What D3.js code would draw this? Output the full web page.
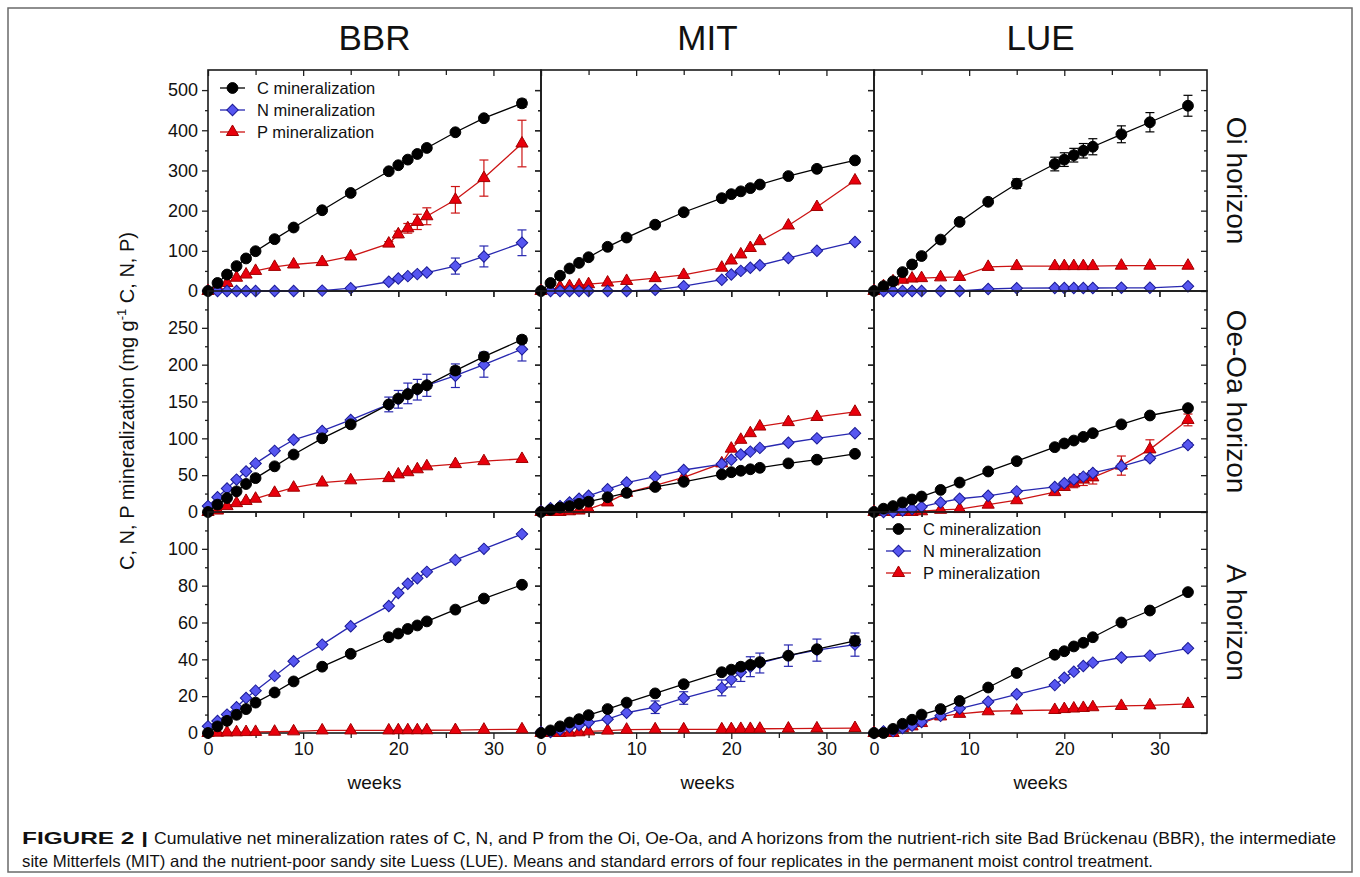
<!DOCTYPE html>
<html>
<head>
<meta charset="utf-8">
<script src="https://cdn.jsdelivr.net/npm/d3@7"></script>
<style>
  body { margin: 0; background: #fff; }
  svg text { font-family: "Liberation Sans", Arial, sans-serif; fill: #111; }
</style>
</head>
<body>
<svg id="chart" width="1360" height="877"></svg>
<script>
// sampling weeks (same for every panel)
const weeks = [0, 1, 2, 3, 4, 5, 7, 9, 12, 15, 19, 20, 21, 22, 23, 26, 29, 33];

const sites = ["BBR", "MIT", "LUE"];
const horizons = ["Oi horizon", "Oe-Oa horizon", "A horizon"];
const elements = ["C mineralization", "N mineralization", "P mineralization"];

// Oi horizon
const bbrOiC = [0, 20, 41, 62, 81, 99, 129, 158, 201, 244, 298, 313, 327, 341, 356, 395, 430, 467];
const bbrOiN = [0, 0, 0, 0, 0, 0, 0, 0, 1, 7, 23, 31, 37, 42, 46, 62, 86, 120];
const bbrOiP = [0, 9, 20, 33, 41, 50, 60, 66, 72, 86, 118, 141, 156, 172, 186, 227, 281, 367];
const mitOiC = [0, 20, 38, 56, 70, 84, 110, 133, 165, 196, 231, 241, 248, 256, 265, 286, 304, 325];
const mitOiN = [0, 0, 0, 0, 0, 0, 0, 0, 3, 12, 28, 41, 50, 58, 64, 82, 100, 122];
const mitOiP = [0, 3, 10, 12, 14, 17, 21, 25, 32, 40, 58, 76, 91, 107, 124, 163, 209, 275];
const lueOiC = [0, 12, 24, 47, 66, 87, 128, 172, 222, 267, 316, 327, 338, 349, 359, 390, 420, 461];
const lueOiN = [0, 0, 0, 0, 0, 0, 0, 0, 5, 7, 7.5, 7.5, 7.5, 7.5, 7.5, 8, 8, 12];
const lueOiP = [0, 12, 24, 28, 31, 32, 34, 35, 60, 62, 62, 62, 62, 62, 62, 63, 63, 63];

// Oe-Oa horizon
const bbrOeC = [0, 10, 19, 28, 38, 46, 62, 78, 100, 119, 146, 154, 160, 167, 172, 192, 211, 234];
const bbrOeN = [8, 20, 32, 44, 55, 66, 83, 98, 110, 125, 146, 153, 161, 166, 172, 185, 200, 221];
const bbrOeP = [0, 2, 8, 12, 15, 18, 26, 33, 40, 43, 46, 51, 54, 58, 62, 65, 69, 72];
const mitOeC = [0, 3, 6, 8, 11, 14, 20, 26, 34, 41, 51, 54, 56, 58, 60, 66, 71, 79];
const mitOeN = [1, 5, 8, 13, 18, 22, 31, 40, 48, 57, 65, 71, 78, 82, 87, 94, 100, 107];
const mitOeP = [0, 0, 0, 1, 2, 4, 13, 26, 36, 47, 66, 86, 98, 107, 116, 122, 129, 136];
const lueOeC = [0, 4.5, 8, 13, 17, 21, 30, 40, 55, 69, 88, 93, 97, 102, 107, 119, 131, 141];
const lueOeN = [0, 0, 0, 2, 4, 7, 13, 18, 22, 28, 34, 39, 44, 48, 53, 62, 73, 91];
const lueOeP = [0, 0, 0, 0, 0, 1, 3, 4, 10, 16, 27, 34, 39, 44, 47, 63, 85, 125];

// A horizon
const bbrAC = [0, 3.6, 6.6, 9.9, 13, 16.5, 22, 28, 36, 43, 52, 54, 56.5, 58.4, 60.6, 67, 73, 80.5];
const bbrAN = [3.6, 6.5, 10, 14, 19, 23, 31, 39, 48, 58, 69, 76, 81, 84, 87.5, 94, 100, 108];
const bbrAP = [0, 0.2, 0.3, 0.4, 0.5, 0.6, 0.7, 0.9, 1.4, 1.4, 1.4, 1.5, 1.5, 1.5, 1.5, 1.6, 1.8, 2];
const mitAC = [0, 1.4, 3.6, 5.7, 7.5, 9.7, 13, 16.5, 21.5, 26.5, 33, 34.4, 36, 37, 38.5, 42, 45.5, 50];
const mitAN = [0.5, 0.5, 1.8, 3.2, 4.3, 5.7, 7.5, 11, 14, 19, 24.5, 29, 33, 36, 38, 42, 45, 48];
const mitAP = [0, 0, 0, 0.2, 0.4, 0.9, 1.3, 1.8, 2, 2, 2, 2.1, 2.2, 2.2, 2.3, 2.4, 2.5, 2.7];
const lueAC = [0, 0, 2.2, 5, 7.2, 10, 13, 17.4, 24.7, 32.6, 42.5, 44.4, 47, 49, 52, 60, 66.5, 76.5];
const lueAN = [0, 0.9, 1, 2.7, 4, 6, 9.3, 13.3, 17, 21, 26, 30, 33.3, 36.4, 38.2, 41, 42, 46];
const lueAP = [0, 0, 0, 2.7, 3.6, 5.4, 9, 10.4, 11.8, 12.2, 12.5, 13, 13.3, 13.6, 14, 14.7, 15, 15.8];

// standard errors (only where the bars are visible)
const errBbrOiC = [0, 0, 0, 0, 0, 0, 0, 0, 0, 0, 0, 0, 0, 0, 0, 4, 5, 10];
const errBbrOiN = [0, 0, 0, 0, 0, 0, 0, 0, 0, 0, 3, 3, 3, 4, 4, 20, 26, 32];
const errBbrOiP = [0, 0, 0, 0, 0, 0, 0, 0, 0, 0, 5, 8, 12, 19, 21, 33, 45, 58];
const errLueOiC = [0, 0, 0, 0, 0, 0, 0, 0, 4, 12, 17, 17, 17, 18, 20, 21, 24, 26];
const errBbrOeC = [0, 0, 0, 0, 0, 0, 0, 0, 0, 0, 4, 4, 4, 4, 4, 5, 5, 5];
const errBbrOeN = [0, 0, 0, 0, 0, 0, 0, 0, 0, 0, 10, 12, 14, 14, 15, 16, 17, 16];
const errLueOeN = [0, 0, 0, 0, 0, 0, 0, 0, 0, 0, 2, 2, 3, 3, 3, 3, 3, 3];
const errLueOeP = [0, 0, 0, 0, 0, 0, 0, 0, 0, 0, 3, 4, 6, 8, 9, 13, 13, 8];
const errMitAC = [0, 0, 0, 0, 0, 0, 0, 0, 0, 0, 0, 0, 0, 0, 0, 1, 1.5, 2.5];
const errMitAN = [0, 0, 0, 0, 0, 0, 0, 0, 3.4, 3.4, 4.3, 4, 5, 5.4, 5.4, 5.8, 6, 6.3];

// axis ticks
const xMajor = [0, 10, 20, 30];
const xMinor = [5, 15, 25];
const yMajor = [[0, 100, 200, 300, 400, 500], [0, 50, 100, 150, 200, 250], [0, 20, 40, 60, 80, 100]];
const yMinor = [[50, 150, 250, 350, 450], [25, 75, 125, 175, 225, 275], [10, 30, 50, 70, 90, 110]];
const yMax = [550, 300, 120];

const panels = [
  { row: 0, col: 0, C: bbrOiC, N: bbrOiN, P: bbrOiP, eC: errBbrOiC, eN: errBbrOiN, eP: errBbrOiP },
  { row: 0, col: 1, C: mitOiC, N: mitOiN, P: mitOiP },
  { row: 0, col: 2, C: lueOiC, N: lueOiN, P: lueOiP, eC: errLueOiC },
  { row: 1, col: 0, C: bbrOeC, N: bbrOeN, P: bbrOeP, eC: errBbrOeC, eN: errBbrOeN },
  { row: 1, col: 1, C: mitOeC, N: mitOeN, P: mitOeP },
  { row: 1, col: 2, C: lueOeC, N: lueOeN, P: lueOeP, eN: errLueOeN, eP: errLueOeP },
  { row: 2, col: 0, C: bbrAC, N: bbrAN, P: bbrAP },
  { row: 2, col: 1, C: mitAC, N: mitAN, P: mitAP, eC: errMitAC, eN: errMitAN },
  { row: 2, col: 2, C: lueAC, N: lueAN, P: lueAP }
];

// layout
const colX = [208, 541, 874],
  rowY = [70, 291, 512],
  panelW = 333,
  panelH = 221;

const styles = {
  C: { fill: "#000", stroke: "#000", line: "#000", sym: d3.symbolCircle, size: 92, rot: 0 },
  N: { fill: "#5656f0", stroke: "#1a1a96", line: "#2828b0", sym: d3.symbolSquare, size: 66, rot: 45 },
  P: { fill: "#e8000c", stroke: "#a00000", line: "#cc1414", sym: d3.symbolTriangle, size: 64, rot: 0 }
};

const svg = d3.select("#chart");

// outer frame
svg.append("rect")
  .attr("x", 8).attr("y", 8)
  .attr("width", 1344).attr("height", 864)
  .attr("fill", "none").attr("stroke", "#6a6a6a").attr("stroke-width", 1.5);

function drawSeries(g, x, y, vals, errs, st) {
  if (errs) {
    const eb = g.append("g").attr("stroke", st.line).attr("stroke-width", 1.2);
    weeks.forEach((w, i) => {
      if (!errs[i]) return;
      const cx = x(w), lo = y(vals[i] - errs[i]), hi = y(vals[i] + errs[i]);
      eb.append("line").attr("x1", cx).attr("x2", cx).attr("y1", lo).attr("y2", hi);
      eb.append("line").attr("x1", cx - 4.5).attr("x2", cx + 4.5).attr("y1", lo).attr("y2", lo);
      eb.append("line").attr("x1", cx - 4.5).attr("x2", cx + 4.5).attr("y1", hi).attr("y2", hi);
    });
  }
  const line = d3.line().x((d, i) => x(weeks[i])).y(d => y(d));
  g.append("path")
    .attr("d", line(vals))
    .attr("fill", "none")
    .attr("stroke", st.line)
    .attr("stroke-width", 1.3);
  g.selectAll(null)
    .data(vals)
    .join("path")
    .attr("d", d3.symbol().type(st.sym).size(st.size))
    .attr("transform", (d, i) => `translate(${x(weeks[i])},${y(d)}) rotate(${st.rot})`)
    .attr("fill", st.fill)
    .attr("stroke", st.stroke)
    .attr("stroke-width", 1);
}

function drawPanel(p) {
  const x0 = colX[p.col], y0 = rowY[p.row];
  const x = d3.scaleLinear().domain([0, 35]).range([x0, x0 + panelW]);
  const y = d3.scaleLinear().domain([0, yMax[p.row]]).range([y0 + panelH, y0]);
  const g = svg.append("g");

  // ticks: vertical edges point left, horizontal edges point down
  const left = d3.axisLeft(y).tickValues(yMajor[p.row]).tickSize(6).tickPadding(4).tickSizeOuter(0);
  if (p.col > 0) left.tickFormat("");
  g.append("g").attr("class", "ax").attr("transform", `translate(${x0},0)`).call(left);
  g.append("g").attr("class", "ax").attr("transform", `translate(${x0},0)`)
    .call(d3.axisLeft(y).tickValues(yMinor[p.row]).tickSize(3).tickFormat("").tickSizeOuter(0));
  g.append("g").attr("class", "ax").attr("transform", `translate(${x0 + panelW},0)`)
    .call(d3.axisLeft(y).tickValues(yMajor[p.row]).tickSize(6).tickFormat("").tickSizeOuter(0));
  g.append("g").attr("class", "ax").attr("transform", `translate(${x0 + panelW},0)`)
    .call(d3.axisLeft(y).tickValues(yMinor[p.row]).tickSize(3).tickFormat("").tickSizeOuter(0));

  [y0, y0 + panelH].forEach((yy, k) => {
    const bottom = d3.axisBottom(x).tickValues(xMajor).tickSize(6).tickPadding(3).tickSizeOuter(0);
    if (!(k === 1 && p.row === 2)) bottom.tickFormat("");
    g.append("g").attr("class", "ax").attr("transform", `translate(0,${yy})`).call(bottom);
    g.append("g").attr("class", "ax").attr("transform", `translate(0,${yy})`)
      .call(d3.axisBottom(x).tickValues(xMinor).tickSize(5).tickFormat("").tickSizeOuter(0));
  });

  g.selectAll(".ax .domain").remove();
  g.selectAll(".ax line").attr("stroke", "#222").attr("stroke-width", 1.3);
  g.selectAll(".ax text").attr("font-size", 18).attr("fill", "#111")
    .attr("font-family", "'Liberation Sans', Arial, sans-serif");

  g.append("rect")
    .attr("x", x0).attr("y", y0).attr("width", panelW).attr("height", panelH)
    .attr("fill", "none").attr("stroke", "#1a1a1a").attr("stroke-width", 1.6);

  drawSeries(g, x, y, p.P, p.eP, styles.P);
  drawSeries(g, x, y, p.N, p.eN, styles.N);
  drawSeries(g, x, y, p.C, p.eC, styles.C);
}

panels.forEach(drawPanel);

// legends
function drawLegend(lx, ly) {
  const keys = ["C", "N", "P"];
  const lg = svg.append("g");
  keys.forEach((k, i) => {
    const st = styles[k], yy = ly + i * 22;
    lg.append("line").attr("x1", lx).attr("x2", lx + 25).attr("y1", yy).attr("y2", yy)
      .attr("stroke", st.line).attr("stroke-width", 1.3);
    lg.append("path").attr("d", d3.symbol().type(st.sym).size(st.size))
      .attr("transform", `translate(${lx + 12.5},${yy}) rotate(${st.rot})`)
      .attr("fill", st.fill).attr("stroke", st.stroke);
    lg.append("text").attr("x", lx + 37).attr("y", yy + 6)
      .attr("font-size", 16.5).text(elements[i]);
  });
}
drawLegend(220, 88);
drawLegend(886, 529);

// column titles and x titles
sites.forEach((s, i) => {
  svg.append("text")
    .attr("x", colX[i] + panelW / 2).attr("y", 50)
    .attr("text-anchor", "middle").attr("font-size", 35)
    .text(s);
  svg.append("text")
    .attr("x", colX[i] + panelW / 2).attr("y", 789)
    .attr("text-anchor", "middle").attr("font-size", 19)
    .text("weeks");
});

// row labels
horizons.forEach((h, i) => {
  const cy = rowY[i] + panelH / 2;
  svg.append("text")
    .attr("transform", `translate(1227,${cy}) rotate(90)`)
    .attr("text-anchor", "middle").attr("font-size", 28)
    .text(h);
});

// y axis title
const yt = svg.append("text")
  .attr("transform", `translate(134,401) rotate(-90)`)
  .attr("text-anchor", "middle").attr("font-size", 20);
yt.append("tspan").text("C, N, P mineralization (mg g");
yt.append("tspan").attr("dy", -8).attr("font-size", 13).text("-1");
yt.append("tspan").attr("dy", 8).text(" C, N, P)");

// caption
const capFont = "'Liberation Sans Narrow', 'Liberation Sans', Arial, sans-serif";
svg.append("text")
  .attr("x", 22).attr("y", 844)
  .attr("font-family", capFont).attr("font-size", 16.5).attr("font-weight", "bold")
  .attr("textLength", 126).attr("lengthAdjust", "spacingAndGlyphs")
  .text("FIGURE 2 |");
svg.append("text")
  .attr("x", 154).attr("y", 844)
  .attr("font-family", capFont).attr("font-size", 16.5)
  .attr("textLength", 1182).attr("lengthAdjust", "spacingAndGlyphs")
  .text("Cumulative net mineralization rates of C, N, and P from the Oi, Oe-Oa, and A horizons from the nutrient-rich site Bad Brückenau (BBR), the intermediate");
svg.append("text")
  .attr("x", 22).attr("y", 867)
  .attr("font-family", capFont).attr("font-size", 16.5)
  .attr("textLength", 1131).attr("lengthAdjust", "spacingAndGlyphs")
  .text("site Mitterfels (MIT) and the nutrient-poor sandy site Luess (LUE). Means and standard errors of four replicates in the permanent moist control treatment.");
</script>
</body>
</html>
